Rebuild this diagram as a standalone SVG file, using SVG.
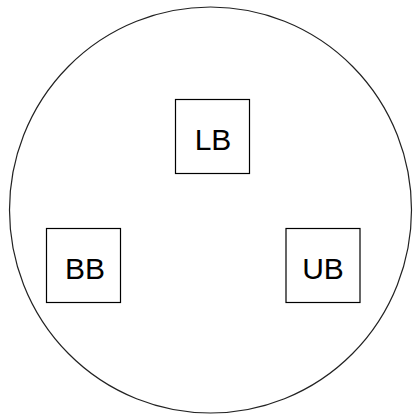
<svg xmlns="http://www.w3.org/2000/svg" width="413" height="414" viewBox="0 0 413 414">
<style>
.box{fill:#fff;stroke:#000;stroke-width:1.2}
.lbl{font-family:"Liberation Sans",Arial,sans-serif;font-size:30px;fill:#000;text-anchor:middle}
</style>
<rect width="413" height="414" fill="#fff"/>
<g id="outer"><ellipse cx="210.5" cy="210" rx="201" ry="203" fill="none" stroke="#222" stroke-width="1.2"/></g>
<g id="connectors"></g>
<g id="LB"><rect class="box" x="175.5" y="99.5" width="74" height="74"/><text class="lbl" x="213" y="150">LB</text></g>
<g id="BB"><rect class="box" x="46.5" y="228.5" width="74" height="74"/><text class="lbl" x="85" y="278.5">BB</text></g>
<g id="UB"><rect class="box" x="286" y="228.5" width="74" height="74"/><text class="lbl" x="323" y="278.5">UB</text></g>
</svg>
